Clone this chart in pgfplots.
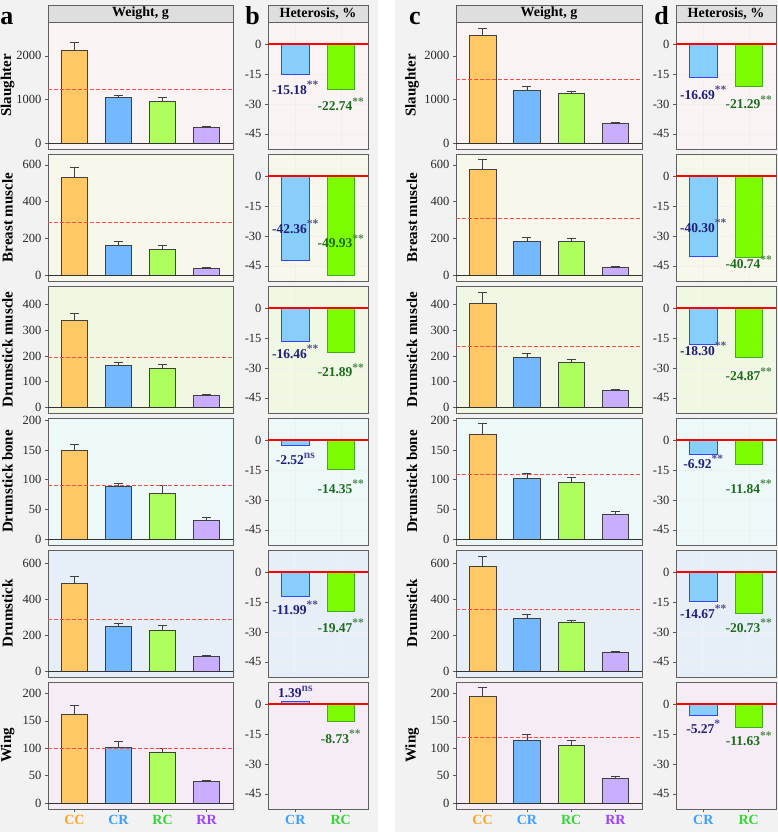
\documentclass[border=0pt]{standalone}
\usepackage{pgfplots}
\pgfplotsset{compat=1.18}
\usepackage{fontspec}
\setmainfont{Liberation Serif}
\definecolor{bgg}{HTML}{F2F2F2}
\definecolor{stripc}{HTML}{DEDEDE}
\definecolor{cCC}{HTML}{FFC864}
\definecolor{cCR}{HTML}{74B9FF}
\definecolor{cRC}{HTML}{AEFF5E}
\definecolor{cRR}{HTML}{C9ADFF}
\definecolor{hCR}{HTML}{87CEFA}
\definecolor{hCRd}{HTML}{3344FF}
\definecolor{hRC}{HTML}{7CFC00}
\definecolor{hRCd}{HTML}{44AA22}
\definecolor{tCR}{HTML}{1F1F7A}
\definecolor{tRC}{HTML}{1E6B1E}
\definecolor{lCC}{HTML}{FFA521}
\definecolor{lCR}{HTML}{3A9FFF}
\definecolor{lRC}{HTML}{33D633}
\definecolor{lRR}{HTML}{A040FF}
\definecolor{mpline}{HTML}{FF4A4A}
\definecolor{r1}{HTML}{F9F3F3}
\definecolor{r2}{HTML}{F7F7EB}
\definecolor{r3}{HTML}{F0F7E3}
\definecolor{r4}{HTML}{EDF8F8}
\definecolor{r5}{HTML}{E6EFF8}
\definecolor{r6}{HTML}{F6ECF6}
\newcommand\sig[1]{\raisebox{0.42em}{\fontsize{11.5}{11.5}\selectfont\color{.!80!white}#1}}
\pgfplotsset{
  base/.style={scale only axis, height=127pt, anchor=south west, clip=false,
    axis line style={draw=gray!75!black, line width=0.6pt},
    tick style={gray!70!black, line width=0.5pt}, tick align=outside, major tick length=3pt,
    ytick pos=left, xtick pos=bottom,
    /pgf/number format/assume math mode=true, /pgf/number format/1000 sep={},
    tick label style={font=\fontsize{12.5}{12.5}\selectfont, text=black!85},
    xticklabel style={font=\bfseries\fontsize{14}{14}\selectfont}},
  wbase/.style={base, xmin=0.4, xmax=4.6, xtick=\empty},
  hbase/.style={base, width=100pt, xmin=0.4, xmax=2.6, xtick={1,2}, xticklabels={},
    ymin=-52.6, ymax=11.3, ytick={-45,-30,-15,0},
    xmajorgrids, ymajorgrids, grid style={black!6, line width=0.4pt},
    x tick style={draw=none}},
  wbottom/.style={xtick={1,2,3,4}, xticklabels={\textcolor{lCC}{CC},\textcolor{lCR}{CR},\textcolor{lRC}{RC},\textcolor{lRR}{RR}}},
  hbottom/.style={x tick style={draw=gray!70!black}, xticklabels={\textcolor{lCR}{CR},\textcolor{lRC}{RC}}},
  bstyle/.style={ybar, bar width=0.6, bar shift=0pt, draw=black!75, line width=0.6pt,
    error bars/y dir=plus, error bars/y explicit,
    error bars/error bar style={black!75, line width=0.6pt},
    error bars/error mark options={rotate=90, mark size=4.5pt, black!75, line width=0.6pt}}
}
\newcommand\wpanel[6]{%
\begin{axis}[wbase,#1]
\addplot[fill=cCC, bstyle] coordinates {#3};
\addplot[fill=cCR, bstyle] coordinates {#4};
\addplot[fill=cRC, bstyle] coordinates {#5};
\addplot[fill=cRR, bstyle] coordinates {#6};
\addplot[black!80, line width=0.6pt] coordinates {(0.4,0) (4.6,0)};
\addplot[mpline, dash pattern=on 3.5pt off 2.5pt, line width=0.9pt] coordinates {(0.4,#2) (4.6,#2)};
\end{axis}}
\newcommand\hpanel[7]{%
\begin{axis}[hbase,#1]
\addplot[ybar, bar width=0.6, bar shift=0pt, fill=hCR, draw=hCRd, line width=0.8pt] coordinates {(1,#2)};
\addplot[ybar, bar width=0.6, bar shift=0pt, fill=hRC, draw=hRCd, line width=0.8pt] coordinates {(2,#3)};
\addplot[red, line width=2pt] coordinates {(0.4,0) (2.6,0)};
\node[font=\bfseries\fontsize{13.5}{13.5}\selectfont, text=tCR, anchor=base, yshift=-4.5pt] at (axis cs:1,#4) {#5};
\node[font=\bfseries\fontsize{13.5}{13.5}\selectfont, text=tRC, anchor=base, yshift=-4.5pt] at (axis cs:2,#6) {#7};
\end{axis}}
\begin{document}
\begin{tikzpicture}
\useasboundingbox (0,0) rectangle (778pt,833pt);
\fill[bgg] (0,1pt) rectangle (378pt,833pt);
\fill[bgg] (395pt,1pt) rectangle (778pt,833pt);
% strips
\tikzset{strip/.style={fill=stripc, draw=gray!75!black, line width=0.6pt}, stext/.style={font=\bfseries\fontsize{14}{14}\selectfont}}
\draw[strip] (48pt,811pt) rectangle (233pt,828pt); \node[stext] at (140.5pt,819.5pt) {Weight, g};
\draw[strip] (268pt,811pt) rectangle (368pt,828pt); \node[stext] at (318pt,819.5pt) {Heterosis, \%};
\draw[strip] (456pt,811pt) rectangle (642pt,828pt); \node[stext] at (549pt,819.5pt) {Weight, g};
\draw[strip] (676pt,811pt) rectangle (776pt,828pt); \node[stext] at (726pt,819.5pt) {Heterosis, \%};
% letters
\tikzset{lett/.style={font=\bfseries\fontsize{26}{26}\selectfont, anchor=base}}
\node[lett] at (7pt,808pt) {a};
\node[lett] at (252.5pt,808pt) {b};
\node[lett] at (415pt,808pt) {c};
\node[lett] at (661.5pt,808pt) {d};
% row labels
\tikzset{rl/.style={font=\bfseries\fontsize{15}{15}\selectfont, rotate=90}}
\foreach \yy/\tt in {747.5/Slaughter, 615.5/Breast muscle, 483.5/Drumstick muscle, 351.5/Drumstick bone, 219.5/Drumstick, 87.5/Wing}{
  \node[rl] at (7.5pt,\yy pt) {\tt};
  \node[rl] at (412pt,\yy pt) {\tt};
}
% ---------- column a ----------
\wpanel{at={(48pt,684pt)}, width=185pt, ymin=-132, ymax=2772, ytick={0,1000,2000}, axis background/.style={fill=r1}}{1238}{(1,2120) +- (0,191)}{(2,1050) +- (0,45)}{(3,956) +- (0,85)}{(4,356) +- (0,23)}
\wpanel{at={(48pt,552pt)}, width=185pt, ymin=-31.4, ymax=659, ytick={0,200,400,600}, axis background/.style={fill=r2}}{284.5}{(1,533) +- (0,52)}{(2,164) +- (0,20)}{(3,142.5) +- (0,21)}{(4,36) +- (0,8)}
\wpanel{at={(48pt,420pt)}, width=185pt, ymin=-22.5, ymax=472.5, ytick={0,100,200,300,400}, axis background/.style={fill=r3}}{193.5}{(1,339) +- (0,29)}{(2,162) +- (0,14)}{(3,151) +- (0,16)}{(4,48) +- (0,4)}
\wpanel{at={(48pt,288pt)}, width=185pt, ymin=-9.7, ymax=203.7, ytick={0,50,100,150,200}, axis background/.style={fill=r4}}{91}{(1,150) +- (0,10)}{(2,88.7) +- (0,6)}{(3,77.9) +- (0,13)}{(4,32) +- (0,4)}
\wpanel{at={(48pt,156pt)}, width=185pt, ymin=-32, ymax=672, ytick={0,200,400,600}, axis background/.style={fill=r5}}{285}{(1,490) +- (0,38)}{(2,251) +- (0,17)}{(3,229.5) +- (0,25)}{(4,80) +- (0,7)}
\wpanel{at={(48pt,24pt)}, width=185pt, ymin=-10.5, ymax=220.5, ytick={0,50,100,150,200}, axis background/.style={fill=r6}, wbottom}{100.5}{(1,162) +- (0,16)}{(2,102) +- (0,10)}{(3,92) +- (0,8)}{(4,39) +- (0,2)}
% ---------- column b ----------
\hpanel{at={(268pt,684pt)}, axis background/.style={fill=r1}}{-15.18}{-22.74}{-22.7}{-15.18\sig{**}}{-31.2}{-22.74\sig{**}}
\hpanel{at={(268pt,552pt)}, axis background/.style={fill=r2}}{-42.36}{-49.93}{-26.2}{-42.36\sig{**}}{-33.7}{-49.93\sig{**}}
\hpanel{at={(268pt,420pt)}, axis background/.style={fill=r3}}{-16.46}{-21.89}{-22.7}{-16.46\sig{**}}{-32.2}{-21.89\sig{**}}
\hpanel{at={(268pt,288pt)}, axis background/.style={fill=r4}}{-2.52}{-14.35}{-9.7}{-2.52\sig{ns}}{-24.2}{-14.35\sig{**}}
\hpanel{at={(268pt,156pt)}, axis background/.style={fill=r5}}{-11.99}{-19.47}{-18.7}{-11.99\sig{**}}{-27.7}{-19.47\sig{**}}
\hpanel{at={(268pt,24pt)}, axis background/.style={fill=r6}, hbottom}{1.39}{-8.73}{5.9}{1.39\sig{ns}}{-17.2}{-8.73\sig{**}}
% ---------- column c ----------
\wpanel{at={(456pt,684pt)}, width=186pt, ymin=-132, ymax=2772, ytick={0,1000,2000}, axis background/.style={fill=r1}}{1464}{(1,2479) +- (0,152)}{(2,1220) +- (0,86)}{(3,1152) +- (0,40)}{(4,449) +- (0,38)}
\wpanel{at={(456pt,552pt)}, width=186pt, ymin=-31.4, ymax=659, ytick={0,200,400,600}, axis background/.style={fill=r2}}{310.5}{(1,576) +- (0,52)}{(2,185.4) +- (0,21)}{(3,184) +- (0,18)}{(4,45) +- (0,4)}
\wpanel{at={(456pt,420pt)}, width=186pt, ymin=-22.5, ymax=472.5, ytick={0,100,200,300,400}, axis background/.style={fill=r3}}{236}{(1,407) +- (0,40)}{(2,193) +- (0,17)}{(3,177) +- (0,11)}{(4,65.5) +- (0,4)}
\wpanel{at={(456pt,288pt)}, width=186pt, ymin=-9.7, ymax=203.7, ytick={0,50,100,150,200}, axis background/.style={fill=r4}}{109.2}{(1,176) +- (0,18)}{(2,101.6) +- (0,8.5)}{(3,96.3) +- (0,7.5)}{(4,42.3) +- (0,4.4)}
\wpanel{at={(456pt,156pt)}, width=186pt, ymin=-32, ymax=672, ytick={0,200,400,600}, axis background/.style={fill=r5}}{343}{(1,583) +- (0,55)}{(2,292.7) +- (0,21)}{(3,272) +- (0,10)}{(4,103) +- (0,10)}
\wpanel{at={(456pt,24pt)}, width=186pt, ymin=-10.5, ymax=220.5, ytick={0,50,100,150,200}, axis background/.style={fill=r6}, wbottom}{120.1}{(1,194.5) +- (0,15.5)}{(2,113.8) +- (0,11.5)}{(3,106) +- (0,8)}{(4,45.7) +- (0,3)}
% ---------- column d ----------
\hpanel{at={(676pt,684pt)}, axis background/.style={fill=r1}}{-16.69}{-21.29}{-25.2}{-16.69\sig{**}}{-30.2}{-21.29\sig{**}}
\hpanel{at={(676pt,552pt)}, axis background/.style={fill=r2}}{-40.30}{-40.74}{-25.7}{-40.30\sig{**}}{-44.2}{-40.74\sig{**}}
\hpanel{at={(676pt,420pt)}, axis background/.style={fill=r3}}{-18.30}{-24.87}{-21.2}{-18.30\sig{**}}{-34.2}{-24.87\sig{**}}
\hpanel{at={(676pt,288pt)}, axis background/.style={fill=r4}}{-6.92}{-11.84}{-11.7}{-6.92\sig{**}}{-24.2}{-11.84\sig{**}}
\hpanel{at={(676pt,156pt)}, axis background/.style={fill=r5}}{-14.67}{-20.73}{-20.7}{-14.67\sig{**}}{-27.7}{-20.73\sig{**}}
\hpanel{at={(676pt,24pt)}, axis background/.style={fill=r6}, hbottom}{-5.27}{-11.63}{-12.2}{-5.27\sig{*}}{-18.2}{-11.63\sig{**}}
\end{tikzpicture}
\end{document}
